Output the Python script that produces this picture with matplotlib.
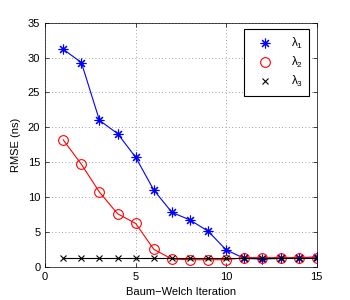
import numpy as np
import matplotlib
matplotlib.use('Agg')
import matplotlib.pyplot as plt

iters = np.arange(1, 16)
lam1 = [31.2, 29.3, 21.0, 19.1, 15.7, 11.0, 7.8, 6.7, 5.1, 2.4, 1.2, 1.1, 1.2, 1.3, 1.4]
lam2 = [18.2, 14.7, 10.7, 7.6, 6.2, 2.5, 1.1, 1.0, 1.0, 1.0, 1.3, 1.3, 1.3, 1.3, 1.3]
lam3 = [1.3] * 15
labels = [r'$\lambda_1$', r'$\lambda_2$', r'$\lambda_3$']

plt.rcParams['font.family'] = ['Liberation Sans', 'DejaVu Sans']
plt.rcParams['mathtext.fontset'] = 'custom'
plt.rcParams['mathtext.rm'] = 'Liberation Sans'
plt.rcParams['mathtext.it'] = 'Liberation Sans'

fig = plt.figure(figsize=(3.5, 3.0), dpi=100)
ax = fig.add_axes([0.129, 0.111, 0.776, 0.813])

star = (8, 2, 0)  # matlab style asterisk
ax.plot(iters, lam1, color='b', lw=0.8, marker=star, ms=7, mew=0.8, label=labels[0])
ax.plot(iters, lam2, color='r', lw=0.8, marker='o', ms=7, mfc='none', mew=0.8, label=labels[1])
ax.plot(iters, lam3, color='k', lw=0.8, marker='x', ms=5, mew=0.8, label=labels[2])

ax.set_xlim(0, 15)
ax.set_ylim(0, 35)
ax.set_xticks([0, 5, 10, 15])
ax.set_yticks(np.arange(0, 36, 5))
ax.grid(True, linestyle=(0, (1, 3)), color='gray', lw=0.6)
ax.tick_params(direction='in', labelsize=8, length=3, width=0.5, top=True, right=True)
for s in ax.spines.values():
    s.set_linewidth(0.5)
ax.set_xlabel('Baum\u2212Welch Iteration', fontsize=8, labelpad=4)
ax.set_ylabel('RMSE (ns)', fontsize=8, labelpad=5)

leg = ax.legend(loc='upper right', fontsize=8.5, fancybox=False, framealpha=1,
                edgecolor='k', markerfirst=True, handlelength=2.4, handletextpad=1.0,
                borderpad=0.55, labelspacing=0.35, borderaxespad=0,
                bbox_to_anchor=(0.972, 0.973))
leg.get_frame().set_linewidth(0.8)
for h in leg.get_lines():
    h.set_linestyle('none')

fig.savefig('out.png', dpi=100)
